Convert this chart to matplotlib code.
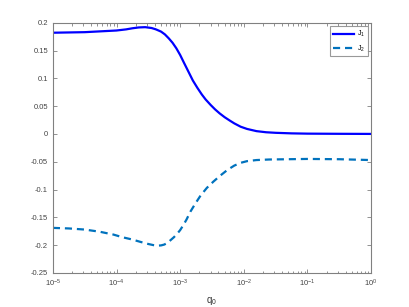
import numpy as np
import matplotlib
matplotlib.use('Agg')
import matplotlib.pyplot as plt
from matplotlib.ticker import FuncFormatter, LogLocator, NullFormatter

plt.rcParams['font.family'] = ['Liberation Sans', 'DejaVu Sans']
plt.rcParams['mathtext.default'] = 'regular'

# J1 (solid), exponents of q0
e1 = [-5, -4.75, -4.5, -4.25, -4, -3.85, -3.75, -3.65, -3.55, -3.45, -3.38,
      -3.3, -3.24, -3.18, -3.12, -3.06, -3.0, -2.94, -2.87, -2.8, -2.73,
      -2.66, -2.6, -2.52, -2.45, -2.38, -2.3, -2.22, -2.15, -2.05, -1.95,
      -1.8, -1.65, -1.5, -1.25, -1, -0.5, 0]
j1 = [0.182, 0.1825, 0.183, 0.1845, 0.186, 0.188, 0.190, 0.1915, 0.192, 0.1905, 0.188,
      0.184, 0.179, 0.172, 0.164, 0.154, 0.142, 0.128, 0.112, 0.096, 0.083,
      0.071, 0.062, 0.052, 0.044, 0.037, 0.030, 0.024, 0.019, 0.013, 0.009,
      0.005, 0.003, 0.002, 0.001, 0.0005, 0.0002, 0.0]

# J2 (dashed)
e2 = [-5, -4.75, -4.5, -4.26, -4.05, -3.9, -3.75, -3.63, -3.5, -3.42, -3.36,
      -3.3, -3.25, -3.2, -3.15, -3.1, -3.05, -3.0, -2.95, -2.9, -2.84,
      -2.76, -2.68, -2.58, -2.48, -2.37, -2.26, -2.15, -2.05, -1.95,
      -1.8, -1.6, -1.3, -1, -0.5, 0]
j2 = [-0.169, -0.170, -0.172, -0.176, -0.181, -0.186, -0.190, -0.194, -0.198, -0.200, -0.201,
      -0.2005, -0.199, -0.196, -0.191, -0.186, -0.180, -0.173, -0.164, -0.154, -0.140,
      -0.125, -0.111, -0.097, -0.086, -0.075, -0.065, -0.057, -0.052, -0.049,
      -0.047, -0.046, -0.0455, -0.045, -0.0455, -0.047]

q1 = 10.0 ** np.array(e1)
q2 = 10.0 ** np.array(e2)

fig = plt.figure(figsize=(4.1, 3.07), dpi=100)
ax = fig.add_axes([0.129, 0.111, 0.776, 0.815])

ax.semilogx(q1, j1, color='#0000ff', lw=1.6, label='$J_1$')
ax.semilogx(q2, j2, color='#0072bd', lw=1.6, ls=(0, (3.2, 2.2)), label='$J_2$')

ax.set_xlim(1e-5, 1)
ax.set_ylim(-0.25, 0.2)
ax.set_yticks(np.arange(-0.25, 0.2001, 0.05))
ax.yaxis.set_major_formatter(FuncFormatter(lambda v, p: '{:g}'.format(round(v, 2) + 0.0)))
ax.xaxis.set_major_locator(LogLocator(base=10, numticks=10))
ax.xaxis.set_minor_locator(LogLocator(base=10, subs=np.arange(2, 10), numticks=20))
ax.xaxis.set_minor_formatter(NullFormatter())

gray = '#808080'
for s in ax.spines.values():
    s.set_color(gray)
    s.set_linewidth(0.8)
ax.tick_params(which='both', direction='in', top=True, right=True, colors=gray,
               labelcolor='#444444', labelsize=5.5, width=0.6)
ax.tick_params(which='major', length=3)
ax.tick_params(which='minor', length=1.8)

ax.set_xlabel('q$_0$', fontsize=7, color='#333333', labelpad=4)

leg = ax.legend(loc='upper right', fontsize=5, handlelength=3.0,
                fancybox=False, borderaxespad=0.5, labelspacing=0.6,
                handletextpad=0.4, borderpad=0.4)
leg.get_frame().set_edgecolor(gray)
leg.get_frame().set_linewidth(0.8)

fig.savefig('out.png', dpi=100)
